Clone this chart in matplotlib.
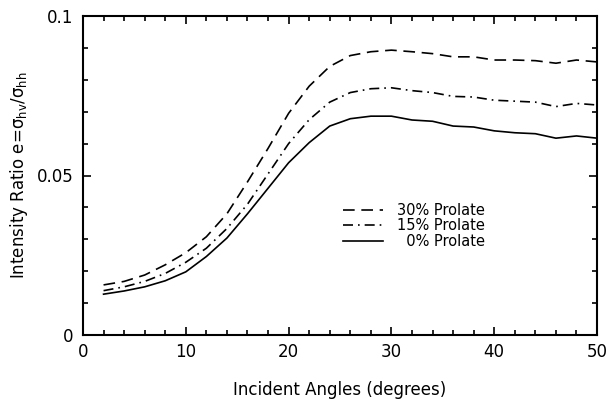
import numpy as np
import matplotlib
matplotlib.use('Agg')
import matplotlib.pyplot as plt
from matplotlib.ticker import MultipleLocator

# Datos: angulo de incidencia (grados) y razon de intensidad
angles = np.arange(2, 51, 2)

prolate_30 = np.array([0.0157, 0.0168, 0.0188, 0.0220, 0.0258, 0.0308, 0.0380, 0.0480,
                       0.0585, 0.0695, 0.0780, 0.0842, 0.0876, 0.0888, 0.0893, 0.0888,
                       0.0882, 0.0872, 0.0872, 0.0862, 0.0862, 0.0860, 0.0852, 0.0862,
                       0.0856])

prolate_15 = np.array([0.0139, 0.0151, 0.0168, 0.0193, 0.0228, 0.0272, 0.0334, 0.0410,
                       0.0505, 0.0600, 0.0675, 0.0730, 0.0760, 0.0772, 0.0775, 0.0766,
                       0.0760, 0.0748, 0.0746, 0.0736, 0.0733, 0.0730, 0.0716, 0.0726,
                       0.0721])

prolate_0 = np.array([0.0128, 0.0138, 0.0151, 0.0170, 0.0198, 0.0246, 0.0304, 0.0380,
                      0.0460, 0.0540, 0.0603, 0.0655, 0.0678, 0.0686, 0.0686, 0.0674,
                      0.0670, 0.0655, 0.0652, 0.0640, 0.0634, 0.0631, 0.0617, 0.0624,
                      0.0617])

labels = ['30% Prolate', '15% Prolate', '\u20070% Prolate']

#------------------------------------------------------------------

fig = plt.figure(figsize=(6.08, 4.0), dpi=100)
ax = fig.add_axes([0.1365, 0.1625, 0.8455, 0.7975])

L1, = ax.plot(angles, prolate_30, color='black', lw=1.2, linestyle=(0, (7, 4)))
L2, = ax.plot(angles, prolate_15, color='black', lw=1.2, linestyle=(0, (6, 3, 1, 3)))
L3, = ax.plot(angles, prolate_0, color='black', lw=1.2, linestyle='-')

ax.legend((L1, L2, L3), labels, loc='upper left', bbox_to_anchor=(0.505, 0.415),
          frameon=False, fontsize=10.5, handlelength=2.8, handletextpad=0.9,
          labelspacing=0.05, borderpad=0, borderaxespad=0)

ax.set_xlim(0, 50)
ax.set_ylim(0, 0.1)
ax.xaxis.set_major_locator(MultipleLocator(10))
ax.xaxis.set_minor_locator(MultipleLocator(2))
ax.yaxis.set_major_locator(MultipleLocator(0.05))
ax.yaxis.set_minor_locator(MultipleLocator(0.01))
ax.set_yticks([0, 0.05, 0.1])
ax.set_yticklabels(['0', '0.05', '0.1'])

ax.tick_params(which='both', direction='in', top=True, right=True, width=1.2, labelsize=12)
ax.tick_params(which='major', length=6)
ax.tick_params(which='minor', length=3.5)
ax.tick_params(axis='x', pad=6)
ax.tick_params(axis='y', pad=7)
for s in ax.spines.values():
    s.set_linewidth(1.5)

ax.set_xlabel('Incident Angles (degrees)', fontsize=12, labelpad=14)
ax.set_ylabel('Intensity Ratio e=σ$_{\\mathregular{hv}}$/σ$_{\\mathregular{hh}}$',
              fontsize=12, labelpad=5)

plt.savefig('out.png', dpi=100)
